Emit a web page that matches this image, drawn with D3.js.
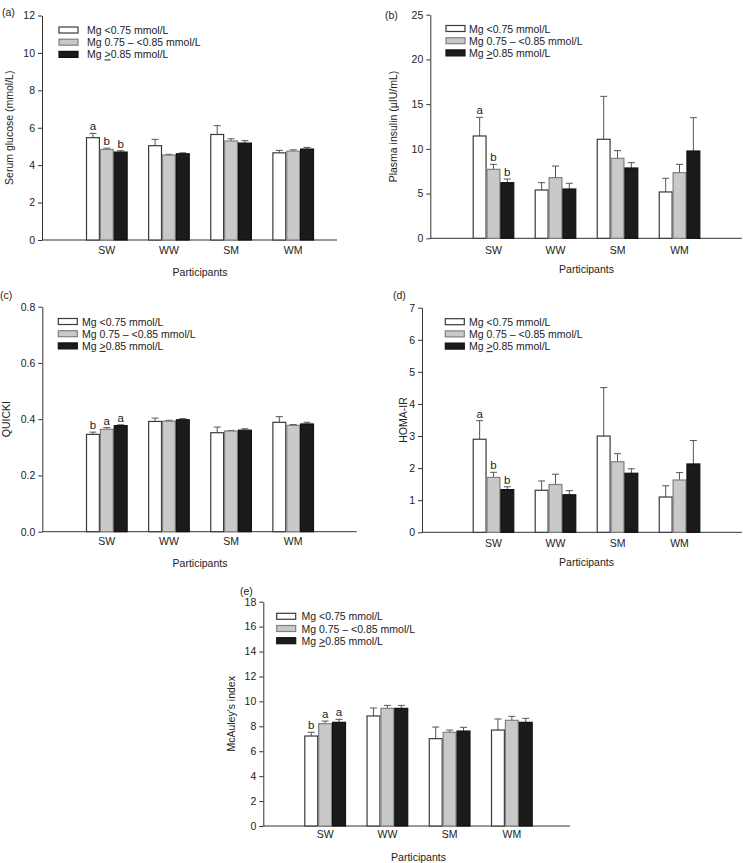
<!DOCTYPE html>
<html><head><meta charset="utf-8">
<script src="https://cdn.jsdelivr.net/npm/d3@7"></script>
<style>
body{margin:0;background:#fff;}
svg{display:block;font-family:"Liberation Sans",Arial,sans-serif;}
</style></head>
<body><svg id="c" width="743" height="863"></svg>
<script>
// ---------- DATA ----------
const categories = ["SW", "WW", "SM", "WM"];
const groups = ["lo", "mid", "hi"];
const legendLabels = ["Mg <0.75 mmol/L", "Mg 0.75 \u2013 <0.85 mmol/L", "Mg >0.85 mmol/L"];

const glucoseMean = [[5.47, 4.84, 4.70], [5.04, 4.54, 4.61], [5.64, 5.29, 5.18], [4.66, 4.75, 4.86]];
const glucoseSE   = [[0.23, 0.07, 0.07], [0.34, 0.04, 0.05], [0.47, 0.12, 0.13], [0.13, 0.07, 0.09]];
const glucoseTicks = [0, 2, 4, 6, 8, 10, 12];
const glucoseLetters = ["a", "b", "b"];

const insulinMean = [[11.44, 7.71, 6.22], [5.40, 6.78, 5.51], [11.07, 8.94, 7.86], [5.18, 7.34, 9.76]];
const insulinSE   = [[2.08, 0.56, 0.41], [0.82, 1.30, 0.64], [4.80, 0.86, 0.60], [1.53, 0.93, 3.73]];
const insulinTicks = [0, 5, 10, 15, 20, 25];
const insulinLetters = ["a", "b", "b"];

const quickiMean = [[0.346, 0.364, 0.377], [0.392, 0.393, 0.398], [0.352, 0.358, 0.361], [0.389, 0.378, 0.383]];
const quickiSE   = [[0.008, 0.006, 0.003], [0.012, 0.003, 0.004], [0.020, 0.002, 0.005], [0.020, 0.003, 0.006]];
const quickiTicks = [0.0, 0.2, 0.4, 0.6, 0.8];
const quickiLetters = ["b", "a", "a"];

const homaMean = [[2.90, 1.71, 1.33], [1.31, 1.49, 1.17], [3.00, 2.20, 1.84], [1.10, 1.63, 2.13]];
const homaSE   = [[0.58, 0.16, 0.09], [0.29, 0.32, 0.13], [1.51, 0.25, 0.14], [0.35, 0.23, 0.73]];
const homaTicks = [0, 1, 2, 3, 4, 5, 6, 7];
const homaLetters = ["a", "b", "b"];

const mcauleyMean = [[7.22, 8.21, 8.32], [8.83, 9.44, 9.44], [7.01, 7.52, 7.62], [7.70, 8.48, 8.32]];
const mcauleySE   = [[0.30, 0.21, 0.24], [0.64, 0.24, 0.24], [0.93, 0.18, 0.30], [0.89, 0.32, 0.32]];
const mcauleyTicks = [0, 2, 4, 6, 8, 10, 12, 14, 16, 18];
const mcauleyLetters = ["b", "a", "a"];

// ---------- STYLE / LAYOUT ----------
const fills   = ["#ffffff", "#c9c9c9", "#1b1b1b"];
const strokes = ["#3a3a3a", "#808080", "#111111"];

const panels = [
  {tag:"(a)", title:"Serum glucose (mmol/L)", mean:glucoseMean, se:glucoseSE, ticks:glucoseTicks, letters:glucoseLetters, fmt:d3.format("d"),
   ax:42, axEnd:337, yTop:15.5, yBot:240, b0:86, b1:314, tagX:2, tagY:16, ylabX:9, xtY:257, xlabY:276, lgBox:59, lgText:87, lgY:30},
  {tag:"(b)", title:"Plasma insulin (\u00b5IU/mL)", mean:insulinMean, se:insulinSE, ticks:insulinTicks, letters:insulinLetters, fmt:d3.format("d"),
   ax:430.3, axEnd:742, yTop:14.7, yBot:238.3, b0:472.7, b1:700.3, tagX:385, tagY:19, ylabX:393, xtY:257, xlabY:273, lgBox:446, lgText:469, lgY:28.5},
  {tag:"(c)", title:"QUICKI", mean:quickiMean, se:quickiSE, ticks:quickiTicks, letters:quickiLetters, fmt:d3.format(".1f"),
   ax:42.3, axEnd:356.7, yTop:306.7, yBot:531.7, b0:86, b1:314, tagX:0, tagY:299, ylabX:6, xtY:547.5, xlabY:567, lgBox:58.3, lgText:82, lgY:321.5},
  {tag:"(d)", title:"HOMA-IR", mean:homaMean, se:homaSE, ticks:homaTicks, letters:homaLetters, fmt:d3.format("d"),
   ax:422, axEnd:742, yTop:307.7, yBot:532.3, b0:472.7, b1:700.3, tagX:393, tagY:299, ylabX:403, xtY:550, xlabY:566, lgBox:445.3, lgText:469, lgY:321.7},
  {tag:"(e)", title:"McAuley's index", mean:mcauleyMean, se:mcauleySE, ticks:mcauleyTicks, letters:mcauleyLetters, fmt:d3.format("d"),
   ax:263.3, axEnd:570, yTop:601.7, yBot:826, b0:304.3, b1:532.7, tagX:240, tagY:594.5, ylabX:231, xtY:841, xlabY:861, lgBox:276.7, lgText:301.5, lgY:616.3}
];

const svg = d3.select("#c");
const FS = 10.5;

panels.forEach(p => {
  const g = svg.append("g");
  const maxV = p.ticks[p.ticks.length - 1];
  const y = d3.scaleLinear().domain([0, maxV]).range([p.yBot, p.yTop]);
  const x = d3.scaleBand().domain(categories).range([p.b0, p.b1]).paddingInner(0.33).paddingOuter(0);
  const xs = d3.scaleBand().domain(groups).range([0, x.bandwidth()]);

  // y axis
  const ya = g.append("g").attr("transform", `translate(${p.ax},0)`)
    .call(d3.axisLeft(y).tickValues(p.ticks).tickFormat(p.fmt).tickSize(4).tickSizeOuter(0).tickPadding(3));
  ya.selectAll("path,line").attr("stroke", "#333");
  ya.selectAll("text").attr("font-size", FS).attr("font-family", "Liberation Sans, Arial, sans-serif").attr("fill", "#222");

  // x axis line
  g.append("line").attr("x1", p.ax).attr("x2", p.axEnd).attr("y1", p.yBot).attr("y2", p.yBot)
    .attr("stroke", "#333").attr("stroke-width", 1);
  const xa = g.append("g").attr("transform", `translate(0,${p.xtY - 10})`)
    .call(d3.axisBottom(x).tickSize(0).tickPadding(0));
  xa.select(".domain").remove();
  xa.selectAll("text").attr("font-size", FS).attr("font-family", "Liberation Sans, Arial, sans-serif").attr("fill", "#222").attr("dy", "0.71em");

  // bars
  categories.forEach((c, ci) => {
    groups.forEach((gr, gi) => {
      const v = p.mean[ci][gi], e = p.se[ci][gi];
      const bx = x(c) + xs(gr), bw = xs.bandwidth();
      const cx = bx + bw / 2;
      // error bar (upper only)
      g.append("line").attr("x1", cx).attr("x2", cx).attr("y1", y(v)).attr("y2", y(v + e))
        .attr("stroke", "#555").attr("stroke-width", 1);
      g.append("line").attr("x1", cx - 3.5).attr("x2", cx + 3.5).attr("y1", y(v + e)).attr("y2", y(v + e))
        .attr("stroke", "#555").attr("stroke-width", 1);
      g.append("rect").attr("x", bx + 0.5).attr("y", y(v)).attr("width", bw - 1).attr("height", y(0) - y(v))
        .attr("fill", fills[gi]).attr("stroke", strokes[gi]).attr("stroke-width", 1.2);
      if (ci === 0) {
        g.append("text").attr("x", cx).attr("y", y(v + e) - 3).attr("text-anchor", "middle")
          .attr("font-size", FS + 1).attr("fill", "#222").text(p.letters[gi]);
      }
    });
  });

  // legend
  legendLabels.forEach((t, i) => {
    const ly = p.lgY + i * 12.2;
    g.append("rect").attr("x", p.lgBox).attr("y", ly - 3).attr("width", 19).attr("height", 6)
      .attr("fill", fills[i]).attr("stroke", strokes[i]).attr("stroke-width", 1.2);
    const tx = g.append("text").attr("x", p.lgText).attr("y", ly + 4).attr("font-size", FS).attr("fill", "#222");
    if (i === 2) {
      tx.append("tspan").text("Mg ");
      tx.append("tspan").attr("text-decoration", "underline").text(">");
      tx.append("tspan").text("0.85 mmol/L");
    } else {
      tx.text(t);
    }
  });

  // labels
  g.append("text").attr("x", p.tagX).attr("y", p.tagY).attr("font-size", FS).attr("fill", "#222").text(p.tag);
  g.append("text").attr("transform", `translate(${p.ylabX},${(p.yTop + p.yBot) / 2}) rotate(-90)`)
    .attr("text-anchor", "middle").attr("dy", "0.35em").attr("font-size", FS).attr("fill", "#222").text(p.title);
  g.append("text").attr("x", (p.b0 + p.b1) / 2).attr("y", p.xlabY).attr("text-anchor", "middle")
    .attr("font-size", FS).attr("fill", "#222").text("Participants");
});
</script></body></html>
